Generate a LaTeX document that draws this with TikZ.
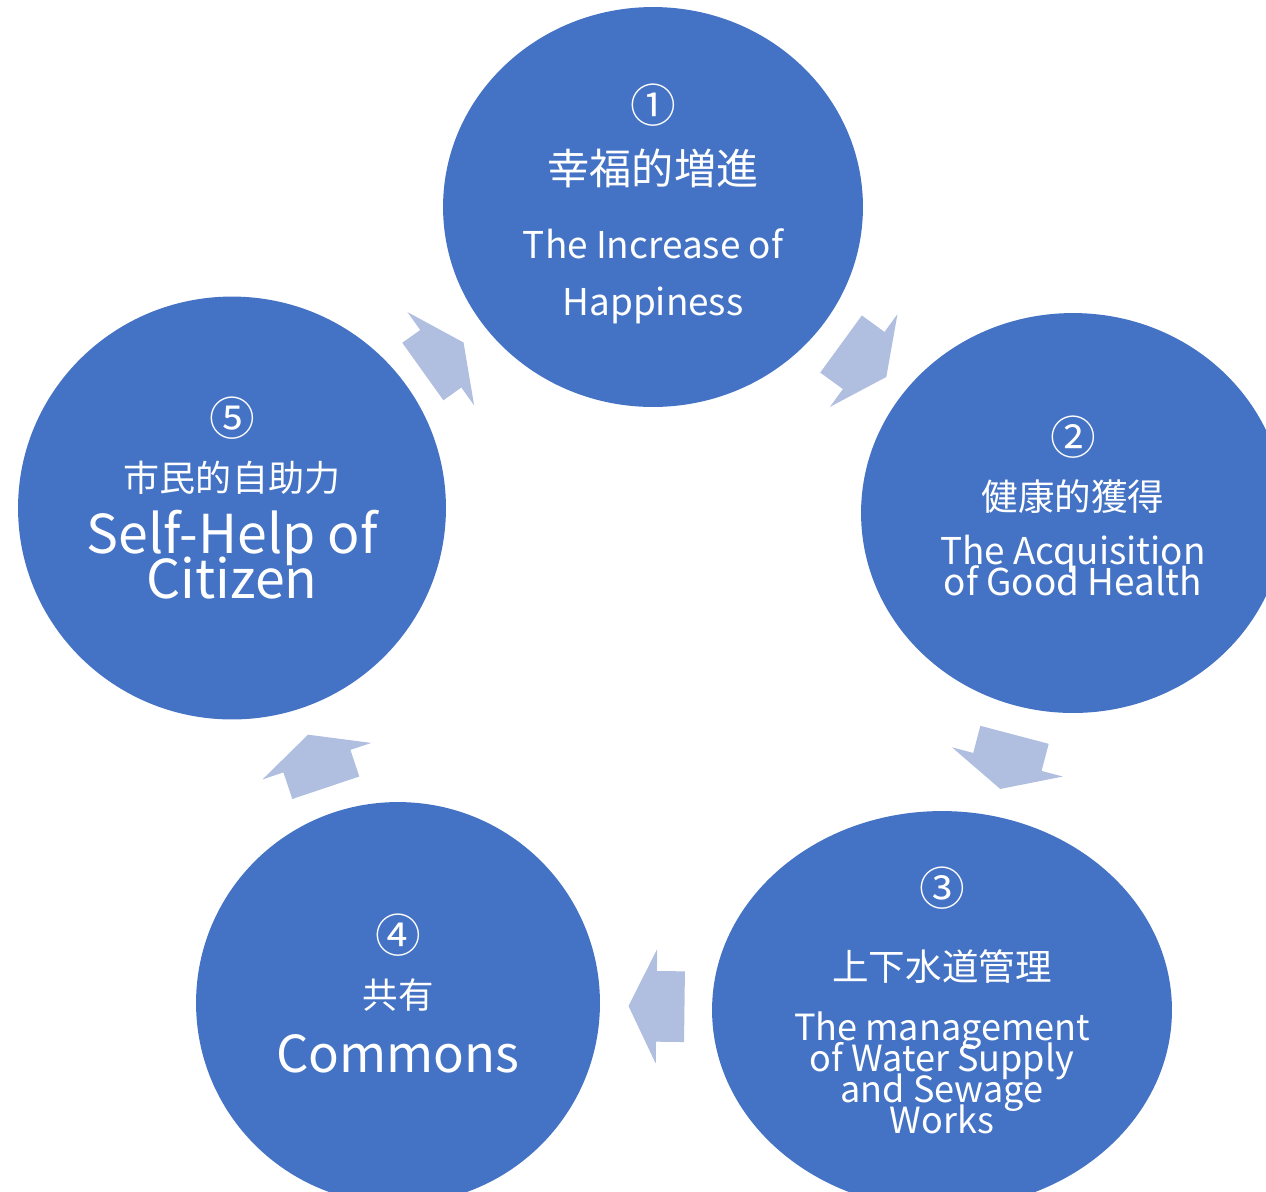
\documentclass[tikz,border=0pt]{standalone}
\usepackage{fontspec}
\setmainfont{Noto Sans CJK JP}
\usetikzlibrary{shapes.geometric,shapes.arrows,calc,positioning}
\definecolor{bubblue}{HTML}{4472C4}
\definecolor{arrblue}{HTML}{B0BEE0}
\newcommand{\fsz}[1]{\fontsize{#1pt}{#1pt}\selectfont}
\tikzset{bubble/.style={ellipse,fill=bubblue,inner sep=0pt},
txt/.style={text=white,inner sep=0pt},
numtxt/.style={txt,font=\fsz{26}},
cyclearrow/.style={single arrow,fill=arrblue,inner xsep=0pt,inner ysep=0.7cm,single arrow head extend=0.44cm,single arrow tip angle=128,minimum height=1.12cm,sloped,allow upside down}}

\begin{document}
\begin{tikzpicture}[x=0.02cm,y=-0.02cm]
\useasboundingbox (0,0) rectangle (1266,1191);
\node[bubble,minimum width=8.4cm,minimum height=8cm] (hap) at (653,207) {};
\node[bubble,minimum width=8.48cm,minimum height=8cm] (hea) at (1073,513) {};
\node[bubble,minimum width=9.2cm,minimum height=7.96cm] (wat) at (942,1010) {};
\node[bubble,minimum width=8.08cm,minimum height=8.04cm] (com) at (398,1003) {};
\node[bubble,minimum width=8.56cm,minimum height=8.46cm] (sel) at (232,508) {};

% 1
\node[numtxt] (hapnum) at ($(hap)+(0,-102)$) {①};
\node[txt,font=\fsz{24}] (hapjp) at ($(hap)+(0,-39)$) {幸福的増進};
\node[txt,font=\fsz{21},anchor=base] (hapen) at ($(hap)+(0,51)$) {The Increase of};
\node[txt,font=\fsz{21},anchor=base] (hapen2) at ($(hap)+(0,108)$) {Happiness};
% 2
\node[numtxt] (heanum) at ($(hea)+(0,-76)$) {②};
\node[txt,font=\fsz{20.8}] (heajp) at ($(hea)+(0,-16)$) {健康的獲得};
\node[txt,font=\fsz{21},anchor=base] (heaen) at ($(hea)+(0,51)$) {The Acquisition};
\node[txt,font=\fsz{21},anchor=base] (heaen2) at ($(hea)+(0,82)$) {of Good Health};
% 3
\node[numtxt] (watnum) at ($(wat)+(0,-122)$) {③};
\node[txt,font=\fsz{20.8}] (watjp) at ($(wat)+(0,-43)$) {上下水道管理};
\node[txt,font=\fsz{20.5},anchor=base] (waten) at ($(wat)+(0,30)$) {The management};
\node[txt,font=\fsz{20.5},anchor=base] (waten2) at ($(wat)+(0,61)$) {of Water Supply};
\node[txt,font=\fsz{20.5},anchor=base] (waten3) at ($(wat)+(0,92)$) {and Sewage};
\node[txt,font=\fsz{20.5},anchor=base] (waten4) at ($(wat)+(0,123)$) {Works};
% 4
\node[numtxt] (comnum) at ($(com)+(0,-68)$) {④};
\node[txt,font=\fsz{20.2}] (comjp) at ($(com)+(0,-8)$) {共有};
\node[txt,font=\fsz{29},anchor=base] (comen) at ($(com)+(0,69)$) {Commons};
% 5
\node[numtxt] (selnum) at ($(sel)+(0,-90)$) {⑤};
\node[txt,font=\fsz{20.5}] (seljp) at ($(sel)+(0,-30)$) {市民的自助力};
\node[txt,font=\fsz{30.5},anchor=base] (selen) at ($(sel)+(0,45)$) {Self-Help of};
\node[txt,font=\fsz{30.5},anchor=base] (selen2) at ($(sel)+(0,90)$) {Citizen};

% arrows
\path (hap.center) -- node[cyclearrow,pos=.485] (a12) {} (hea.center);
\path (hea.center) -- node[cyclearrow,pos=.484] (a23) {} (wat.center);
\path (wat.center) -- node[cyclearrow,pos=.509] (a34) {} (com.center);
\path (com.center) -- node[cyclearrow,pos=.472] (a45) {} (sel.center);
\path (sel.center) -- node[cyclearrow,pos=.485,minimum height=1cm] (a51) {} (hap.center);
\end{tikzpicture}
\end{document}
